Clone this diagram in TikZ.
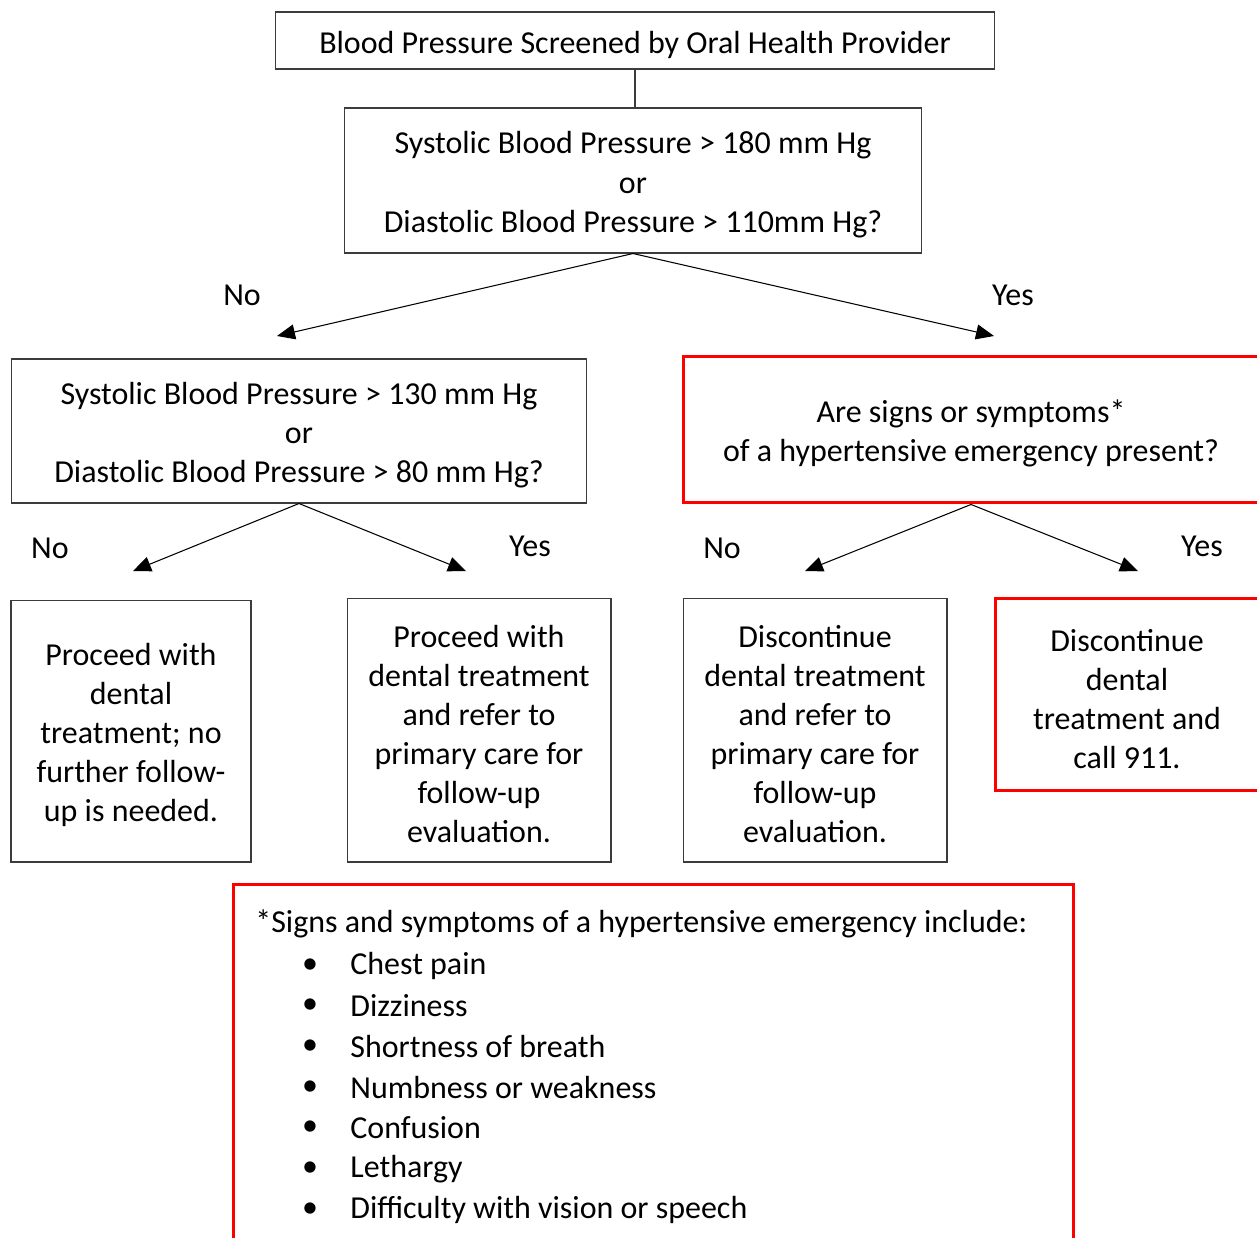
\documentclass[tikz,border=0pt]{standalone}
\usepackage{fontspec}
\setmainfont{Carlito}
\usetikzlibrary{arrows.meta}
\definecolor{cLine}{HTML}{3C3C3C}
\definecolor{cAlert}{HTML}{FF0000}
\newcommand{\bodyfont}{\fontsize{18.2}{22.2}\selectfont}
\newcommand{\topgap}{\rule{0pt}{0.61cm}}

\begin{document}
\begin{tikzpicture}[x=0.02cm,y=-0.02cm,
  box/.style={draw=cLine,line width=0.6pt,fill=white,align=center,inner sep=0pt,
    font=\bodyfont},
  alert/.style={box,draw=cAlert,line width=1.7pt},
  flow/.style={-{Triangle[length=0.36cm,width=0.3cm]},line width=0.6pt},
  lbl/.style={font=\bodyfont,inner sep=0pt},
  sign/.style={font=\bodyfont,inner sep=0pt,anchor=west}]

  \clip (0,0) rectangle (1257,1237);
  \fill[white] (0,0) rectangle (1257,1237);

  % top of the chart
  \node[box,minimum width=14.4cm,minimum height=1.14cm] (screen) at (635,40.5)
    {\topgap Blood Pressure Screened by Oral Health Provider};
  \node[box,minimum width=11.56cm,minimum height=2.9cm] (severe) at (633,180.5)
    {\topgap Systolic Blood Pressure > 180 mm Hg\\or\\Diastolic Blood Pressure > 110mm Hg?};
  \draw[draw=cLine,line width=0.6pt] (screen.south) -- (screen.south |- severe.north);

  % second row
  \node[box,minimum width=11.52cm,minimum height=2.88cm] (elevated) at (299,431)
    {\topgap Systolic Blood Pressure > 130 mm Hg\\or\\Diastolic Blood Pressure > 80 mm Hg?};
  \node[alert,minimum width=11.52cm,minimum height=2.94cm] (symptoms) at (971,429.5)
    {\topgap Are signs or symptoms*\\of a hypertensive emergency present?};

  \coordinate (tipNo1)  at (277,336);
  \coordinate (tipYes1) at (994,336);
  \draw[flow] (severe.south) -- (tipNo1);
  \draw[flow] (severe.south) -- (tipYes1);
  \node[lbl] (no1)  at (242,295) {No};
  \node[lbl] (yes1) at (1013,295) {Yes};

  % outcomes
  \node[box,minimum width=4.8cm,minimum height=5.24cm] (proceed) at (131,731)
    {\topgap Proceed with\\dental\\treatment; no\\further follow-\\up is needed.};
  \node[box,minimum width=5.28cm,minimum height=5.28cm] (refer) at (479,730)
    {\topgap Proceed with\\dental treatment\\and refer to\\primary care for\\follow-up\\evaluation.};
  \node[box,minimum width=5.28cm,minimum height=5.28cm] (stop) at (815,730)
    {\topgap Discontinue\\dental treatment\\and refer to\\primary care for\\follow-up\\evaluation.};
  \node[alert,minimum width=5.28cm,minimum height=3.86cm] (call) at (1127,694.5)
    {\topgap Discontinue\\dental\\treatment and\\call 911.};

  \coordinate (tipNo2)  at (133,571);
  \coordinate (tipYes2) at (466,571);
  \coordinate (tipNo3)  at (805,571);
  \coordinate (tipYes3) at (1138,571);
  \draw[flow] (elevated.south) -- (tipNo2);
  \draw[flow] (elevated.south) -- (tipYes2);
  \draw[flow] (symptoms.south) -- (tipNo3);
  \draw[flow] (symptoms.south) -- (tipYes3);
  \node[lbl] (no2)  at (50,548) {No};
  \node[lbl] (yes2) at (530,546) {Yes};
  \node[lbl] (no3)  at (722,548) {No};
  \node[lbl] (yes3) at (1202,546) {Yes};

  % footnote with the list of signs
  \node[alert,anchor=north west,minimum width=16.8cm,minimum height=8cm] (note)
    at (232,883) {};
  \node[sign] (head) at (255,924)
    {*Signs and symptoms of a hypertensive emergency include:};
  \node[lbl] (b1) at (310,966)  {\textbullet};
  \node[lbl] (b2) at (310,1006) {\textbullet};
  \node[lbl] (b3) at (310,1047) {\textbullet};
  \node[lbl] (b4) at (310,1088) {\textbullet};
  \node[lbl] (b5) at (310,1128) {\textbullet};
  \node[lbl] (b6) at (310,1169) {\textbullet};
  \node[lbl] (b7) at (310,1210) {\textbullet};
  \node[sign] (s1) at (350,966)  {Chest pain};
  \node[sign] (s2) at (350,1006) {Dizziness};
  \node[sign] (s3) at (350,1047) {Shortness of breath};
  \node[sign] (s4) at (350,1088) {Numbness or weakness};
  \node[sign] (s5) at (350,1128) {Confusion};
  \node[sign] (s6) at (350,1169) {Lethargy};
  \node[sign] (s7) at (350,1210) {Difficulty with vision or speech};
\end{tikzpicture}
\end{document}
